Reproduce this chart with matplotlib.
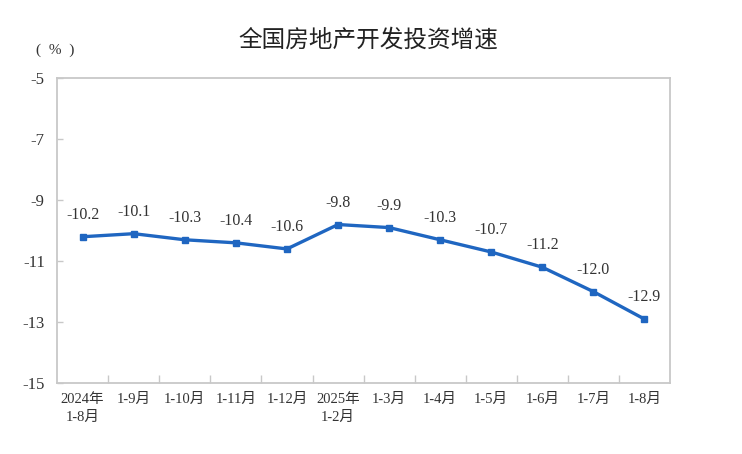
import numpy as np
import matplotlib.pyplot as plt

# 全国房地产开发投资增速 (累计同比, %)
periods = ['2024年\n1-8月', '1-9月', '1-10月', '1-11月', '1-12月', '2025年\n1-2月',
           '1-3月', '1-4月', '1-5月', '1-6月', '1-7月', '1-8月']
growth = [-10.2, -10.1, -10.3, -10.4, -10.6, -9.8, -9.9, -10.3, -10.7, -11.2, -12.0, -12.9]
y_ticks = [-5, -7, -9, -11, -13, -15]

serif = ['Liberation Serif', 'Noto Sans CJK SC']
plt.rcParams['font.family'] = serif

fig = plt.figure(figsize=(7.42, 4.54), dpi=100)
ax = fig.add_axes([0.077, 0.156, 0.826, 0.672])

x = np.arange(len(periods))
line_color = '#1f66c1'
ax.plot(x, growth, color=line_color, linewidth=2.4, marker='s', markersize=5,
        markerfacecolor=line_color, markeredgecolor=line_color)

for xi, v in zip(x, growth):
    ax.annotate(f'{v:.1f}', (xi, v), xytext=(0, 10), textcoords='offset points',
                ha='center', va='bottom', fontsize=11.5, color='#333333', family=serif)

ax.set_xlim(-0.5, len(periods) - 0.5)
ax.set_ylim(-15, -5)
ax.set_yticks(y_ticks)
ax.set_yticklabels([str(t) for t in y_ticks], fontsize=12, color='#333333')
ax.set_xticks(x)
ax.set_xticklabels(periods, fontsize=10.5, color='#333333', linespacing=1.45)
ax.set_xticks(x[:-1] + 0.5, minor=True)
ax.tick_params(axis='x', which='major', length=0, pad=7)
ax.tick_params(axis='x', which='minor', direction='in', length=6, color='#c8c8c8', width=1)
ax.tick_params(axis='y', direction='in', length=4, color='#c8c8c8', width=1, pad=9)

for s in ax.spines.values():
    s.set_color('#c8c8c8')
    s.set_linewidth(1.3)

fig.text(0.497, 0.912, '全国房地产开发投资增速', ha='center', va='center', fontsize=17,
         family=['Noto Sans CJK SC', 'DejaVu Sans'], color='#222222')
fig.text(0.074, 0.889, '(  %  )', ha='center', va='center', fontsize=11,
         family=serif, color='#333333')

fig.savefig('out.png', dpi=100)
